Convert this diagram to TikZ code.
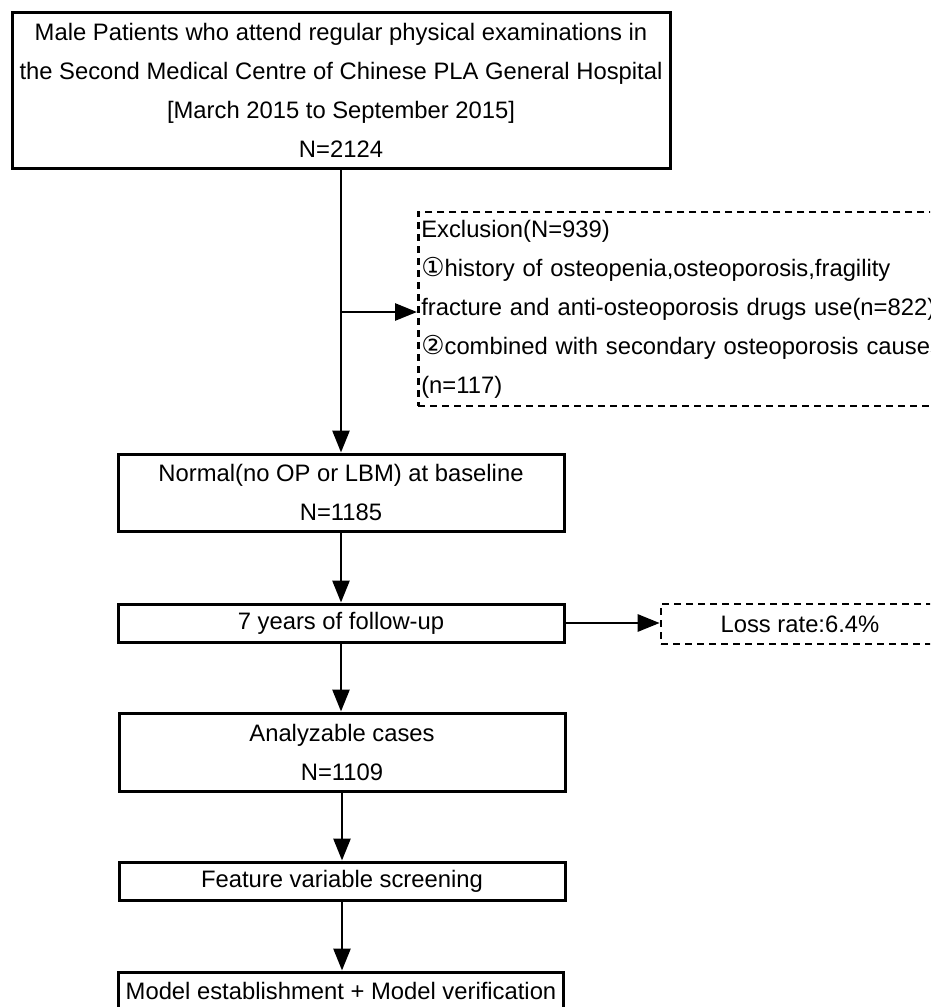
\documentclass[tikz,border=0pt]{standalone}
\usepackage{fontspec}
\setmainfont{Liberation Sans}
\newfontfamily\circfont{DejaVu Sans}
\usetikzlibrary{arrows.meta}
\newcommand\circled[1]{{\circfont\fontsize{26}{39}\selectfont #1}}

\tikzset{
  flowbox/.style={draw=black, line width=3pt, inner sep=0pt, align=center, minimum width=446pt},
  dashbox/.style={draw=black, line width=2.6pt, dash pattern=on 7pt off 5pt, inner sep=0pt},
  flowarrow/.style={line width=2.8pt, -{Triangle[length=22pt,width=17pt]}}
}

\begin{document}
\begin{tikzpicture} [x=1pt, y=-1pt, font=\fontsize{23.8}{39}\selectfont]

\useasboundingbox (0,0) rectangle (930,1007);
\clip (0,0) rectangle (930,1007);

\node[flowbox, minimum width=658pt, minimum height=156pt] (patients) at (341,90)
  {Male Patients who attend regular physical examinations in\\
   the Second Medical Centre of Chinese PLA General Hospital\\
   {[March 2015 to September 2015]}\\
   N=2124};
\node[dashbox, anchor=west, minimum height=194pt, text width=540pt, inner xsep=3pt, align=left] (exclusion) at (417,309)
  {Exclusion(N=939)\\
   \circled{①}history of osteopenia,osteoporosis,fragility\\
   fracture and anti-osteoporosis drugs use(n=822)\\
   \circled{②}combined with secondary osteoporosis causes\\
   (n=117)};
\node[flowbox, minimum height=77pt] (normal) at (341,492.5) {Normal(no OP or LBM) at baseline\\N=1185};
\node[flowbox, minimum height=38pt] (followup) at (341,623) {7 years of follow-up};
\node[dashbox, minimum width=278pt, minimum height=40pt] (loss) at (800,624) {Loss rate:6.4\%};
\node[flowbox, minimum height=78pt] (cases) at (342,752) {Analyzable cases\\N=1109};
\node[flowbox, minimum height=38pt] (screening) at (342,881) {Feature variable screening};
\node[flowbox, minimum width=445pt, minimum height=38pt] (model) at (341,991) {Model establishment + Model verification};

\coordinate (split) at (341,312);

\draw[flowarrow] (patients.south) -- (normal.north);
\draw[flowarrow] (split) -- (split -| exclusion.west);
\draw[flowarrow] (normal) -- (followup);
\draw[flowarrow] (followup.east) -- (followup.east -| loss.west);
\draw[flowarrow] (followup) -- (followup |- cases.north);
\draw[flowarrow] (cases) -- (cases |- screening.north);
\draw[flowarrow] (screening) -- (screening |- model.north);

\end{tikzpicture}
\end{document}
